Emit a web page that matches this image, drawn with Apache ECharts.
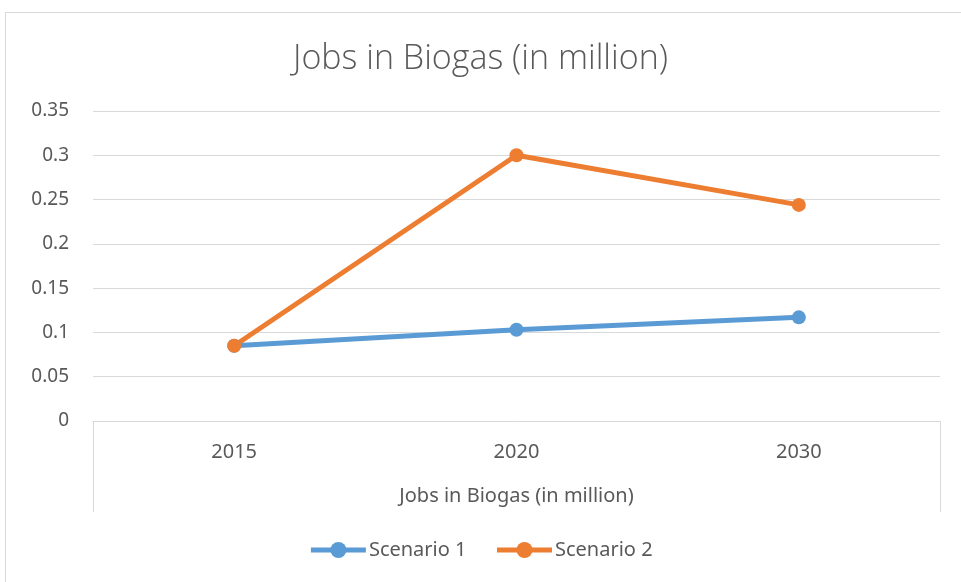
<!DOCTYPE html>
<html>
<head>
<meta charset="utf-8">
<script src="https://cdn.jsdelivr.net/npm/echarts@6/dist/echarts.min.js"></script>
<style>
    html, body { margin: 0; padding: 0; background: #fff; }
    #frame { position: absolute; left: 5px; top: 12px; width: 1000px; height: 600px; border: 1px solid #D9D9D9; }
    #chart { position: absolute; left: 0; top: 0; width: 961px; height: 582px; }
</style>
</head>
<body>
<div id="frame"></div>
<div id="chart"></div>
<script>
var years = ["2015", "2020", "2030"];
var scenario1 = [0.085, 0.103, 0.117];
var scenario2 = [0.085, 0.300, 0.244];
var seriesNames = ["Scenario 1", "Scenario 2"];
var colors = ["#5B9BD5", "#ED7D31"];
var groupLabel = ["Jobs in Biogas (in million)"];

var font = "'Noto Sans', sans-serif";
var textColor = "#595959";
var gridColor = "#D9D9D9";

var myChart = echarts.init(document.getElementById("chart"));

function lineSeries(name, data, color) {
    return {
        name: name,
        type: "line",
        data: data,
        xAxisIndex: 0,
        symbol: "circle",
        symbolSize: 14,
        itemStyle: { color: color },
        lineStyle: { color: color, width: 5 },
        emphasis: { disabled: true },
        animation: false
    };
}

var option = {
    title: {
        text: "Jobs in Biogas (in million)",
        left: "center",
        top: 37,
        textStyle: { fontFamily: "'Open Sans', 'Noto Sans', sans-serif", fontSize: 34, fontWeight: 300, color: textColor }
    },
    color: colors,
    legend: {
        bottom: 17,
        left: "center",
        itemWidth: 55,
        itemHeight: 20,
        itemGap: 28,
        data: seriesNames,
        lineStyle: { width: 5 },
        textStyle: { fontFamily: font, fontSize: 20, color: textColor, padding: [0, 0, 0, -2] }
    },
    grid: { left: 93, right: 21, top: 111, bottom: 161 },
    xAxis: [
        {
            type: "category",
            data: years,
            axisLine: { lineStyle: { color: gridColor, width: 1 } },
            axisTick: { show: false },
            axisLabel: { margin: 21, fontFamily: font, fontSize: 20, color: textColor }
        },
        {
            type: "category",
            data: groupLabel,
            position: "bottom",
            offset: 0,
            axisLine: { show: false },
            axisTick: { show: true, length: 91, lineStyle: { color: gridColor, width: 1 } },
            axisLabel: { margin: 65, fontFamily: font, fontSize: 20, color: textColor }
        }
    ],
    yAxis: {
        type: "value",
        min: 0,
        max: 0.35,
        interval: 0.05,
        axisLine: { show: false },
        axisTick: { show: false },
        splitLine: { lineStyle: { color: gridColor, width: 1 } },
        axisLabel: { margin: 24, fontFamily: font, fontSize: 19, color: textColor }
    },
    series: [
        lineSeries(seriesNames[0], scenario1, colors[0]),
        lineSeries(seriesNames[1], scenario2, colors[1])
    ]
};
myChart.setOption(option);
</script>
</body>
</html>
